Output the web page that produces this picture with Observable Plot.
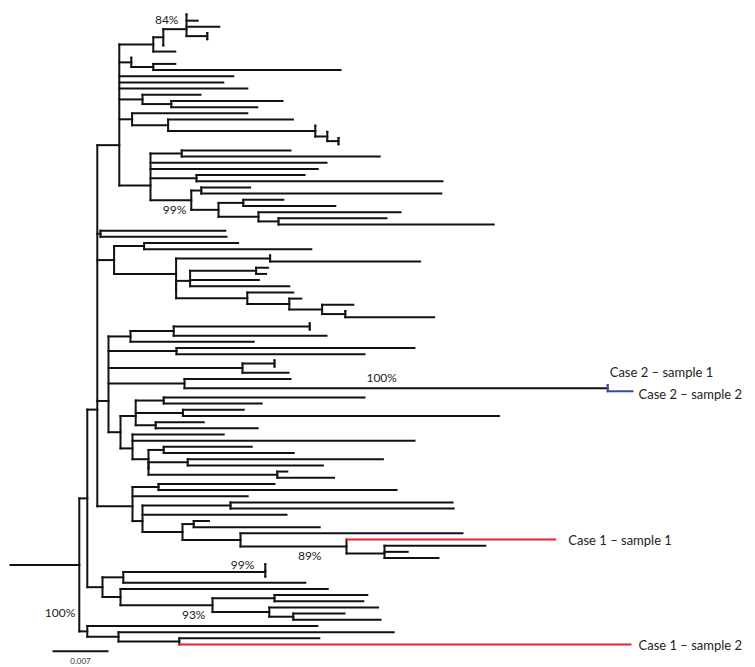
<!DOCTYPE html>
<html>
<head>
<meta charset="utf-8">
<script src="https://cdn.jsdelivr.net/npm/d3@7"></script>
<script src="https://cdn.jsdelivr.net/npm/@observablehq/plot@0.6"></script>
<style>
  html, body { margin: 0; padding: 0; background: #fff; }
  #chart svg { display: block; }
</style>
</head>
<body>
<div id="chart"></div>
<script>
// ---------------- DATA ----------------
// Branch lengths in the Newick string are in units of 0.001 substitutions per site.
const UNIT = 0.001;
// Internal node labels are bootstrap support (%).
const newick =
  "((" +
    "(" +
      "((((:0,:1.4,:4.1,(:0,:0):2.6)84:2.9,:0):1.25,:2.75):4.25," +
      "(:0,(:2.75,:23.4):2.75):1.5," +
      ":14.25,:13,:16," +
      "(:7.25,(:13.9,:10.75):3.6):2.9," +
      "(:14.4,(:15.6,(:0,(:0,(:0,:0):1.4):1.5):18.4):4.5):1.6," +
      "((:13.6,:24.75):3.9,:22,:20.9,(:13.5,:30.75):5.75," +
        "((:6.1,:30):1.25,((:5,:11.5):3.1,(:17.75,(:13.5,:26.9):2.5):5):3.4)99:5.1):3.9" +
      "):2.75," +
      "(:15.6,:15.75):0.4," +
      "((:11.75,:20.9):3.75,((:0,:18.75):11.75,(((:1.5,:1.25):8.25,:8.6,:12.4):1.75," +
        "(:5.75,(:1.5,(:3.9,(:0,:11.1):2.9):4.1):5.25):8.9):0):7.75):2.1," +
      "((((:0,:0):17,:19.1):5.4,:15.4):2.75,(:29.75,:23.5):8.5,((:0,:0):4,:5.75):16.75," +
        "(:13.25,(c2s1:0,c2s2:3.1)100:52.9):9.5," +
        "(((:25.1,:12.25):3.5,(:7.6,:39.5):5.9,(:6,:12.75):2.5):1.9," +
         "(:11.4,:35.25,((:11,:16.25):1.9,((:24.4,:16.9):4.9,(:1.25,:7.1):16.1):0):2):1.5):1.5" +
      "):1.4," +
      "((:14.5,:29.75):3.25,:14.4,((:27.75,:27.9):11,:18,((:1.9,:15.75):1.4," +
        "(:27.75,(c1s1:26.1,(:12.6,:2.9,:6.75):4.75)89:13.25):7.25):5):1.25):4.4" +
    "):1.25," +
    "(((:0,:0,:0)99:17.75,:22.75):2.6,(:25.9,((:11.6,:11.1):7.75,(:13.6,(:6.4,:10.9):3):7.1)93:11.5):2.25):1.9" +
  "):1," +
  "(:28.75,(:34.4,(:17.5,c1s2:56.4):7.6):3.9)100:1" +
  "):8.6;";

const caseLeaves = ["c2s1", "c2s2", "c1s1", "c1s2"];
const caseLabels = ["Case 2 – sample 1", "Case 2 – sample 2", "Case 1 – sample 1", "Case 1 – sample 2"];
const caseNumber = [2, 2, 1, 1];
const scaleBarValue = 0.007;
const scaleBarText = "0.007";

// ---------------- PARSE & LAYOUT ----------------
function parseNewick(src) {
  const s = src.replace(/\s+/g, "");
  let i = 0;
  function node() {
    const n = {children: [], name: "", len: 0};
    if (s[i] === "(") {
      i++;
      n.children.push(node());
      while (s[i] === ",") { i++; n.children.push(node()); }
      i++; // ')'
    }
    let name = "";
    while (i < s.length && !",():;".includes(s[i])) name += s[i++];
    n.name = name;
    if (s[i] === ":") {
      i++;
      let num = "";
      while (i < s.length && !",();".includes(s[i])) num += s[i++];
      n.len = +num;
    }
    n.children.forEach(c => c.parent = n);
    return n;
  }
  return node();
}

const root = parseNewick(newick);
let leafCount = 0;
const nodes = [];
(function layout(n, x0) {
  n.x = x0 + n.len;
  nodes.push(n);
  if (!n.children.length) {
    n.y = leafCount++;
  } else {
    n.children.forEach(c => layout(c, n.x));
    let acc = n.children[0].y;
    for (let k = 1; k < n.children.length; k++) acc = (acc + n.children[k].y) / 2;
    n.y = acc;
  }
})(root, 0);

const RED = "#e3232c", BLUE = "#3d479b", BLACK = "#111";
function caseOf(n) {
  const k = caseLeaves.indexOf(n.name);
  return k >= 0 ? caseNumber[k] : 0;
}
function colorOf(n) {
  const c = caseOf(n);
  return c === 1 ? RED : c === 2 ? BLUE : BLACK;
}

const segs = [];
for (const n of nodes) {
  segs.push({x1: n.parent ? n.parent.x : 0, x2: n.x, y1: n.y, y2: n.y, color: colorOf(n)});
  if (n.children.length) {
    const allCase2 = n.children.every(c => caseOf(c) === 2);
    segs.push({x1: n.x, x2: n.x, y1: n.children[0].y, y2: n.children[n.children.length - 1].y,
               color: allCase2 ? BLUE : BLACK});
  }
}

// ---------------- PLOT ----------------
const pxPerUnit = 8;
const W = 755, H = 667;
const xMax = (W - 10) / pxPerUnit;
const yMax = leafCount - 1;

const font = "Lato, 'Open Sans', sans-serif";
const marks = [];
for (const col of [BLACK, RED, BLUE]) {
  marks.push(Plot.link(segs.filter(d => d.color === col), {
    x1: "x1", x2: "x2", y1: "y1", y2: "y2",
    stroke: col, strokeWidth: 2, strokeLinecap: "square"
  }));
}

const bsOffsets = {
  "84": [[-8, -9]], "99": [[-5, 10], [-11, -7]], "100": [[-226, -10], [-12, -18]],
  "89": [[-25, 10]], "93": [[-7, 10]]
};
const bsUse = {};
for (const n of nodes) {
  if (n.children.length && n.name) {
    const k = bsUse[n.name] || 0; bsUse[n.name] = k + 1;
    const off = bsOffsets[n.name][k];
    marks.push(Plot.text([n], {
      x: "x", y: "y", text: d => d.name + "%",
      textAnchor: off[0] === -226 ? "middle" : "end",
      dx: off[0], dy: off[1], fontSize: 12, fontFamily: font, fill: "#222"
    }));
  }
}

const caseOffsets = {c2s1: [2, -12], c2s2: [6, 4], c1s1: [13, 1], c1s2: [8, 1]};
for (const n of nodes) {
  const k = caseLeaves.indexOf(n.name);
  if (k >= 0) {
    const off = caseOffsets[n.name];
    marks.push(Plot.text([n], {
      x: "x", y: "y", text: () => caseLabels[k], textAnchor: "start",
      dx: off[0], dy: off[1], fontSize: 13, fontFamily: font, fill: "#222"
    }));
  }
}

const sbLen = scaleBarValue / UNIT;
const sbX = (52 - 10) / pxPerUnit;
const sbY = yMax + 1.1;
marks.push(Plot.link([{x1: sbX, x2: sbX + sbLen, y: sbY}], {
  x1: "x1", x2: "x2", y1: "y", y2: "y", stroke: BLACK, strokeWidth: 2
}));
marks.push(Plot.text([{x: sbX + sbLen / 2, y: sbY, t: scaleBarText}], {
  x: "x", y: "y", text: "t", dy: 10, fontSize: 8, fontFamily: font, fill: "#333"
}));

const chart = Plot.plot({
  width: W, height: H, margin: 0,
  style: {background: "#fff"},
  x: {domain: [0, xMax], range: [10, W], axis: null},
  y: {domain: [0, yMax], range: [14, 644], axis: null},
  marks
});
document.getElementById("chart").append(chart);
</script>
</body>
</html>
